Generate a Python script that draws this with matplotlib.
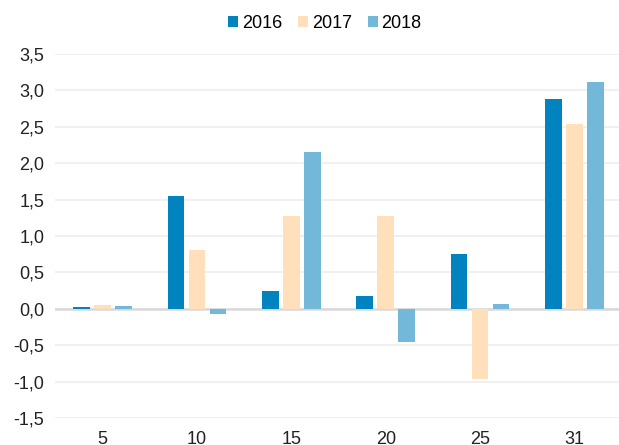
import matplotlib
matplotlib.use("Agg")
import matplotlib.pyplot as plt
import numpy as np
from matplotlib.ticker import FuncFormatter

categories = ["5", "10", "15", "20", "25", "31"]
series_names = ["2016", "2017", "2018"]
v2016 = [0.02, 1.55, 0.24, 0.18, 0.75, 2.88]
v2017 = [0.05, 0.81, 1.28, 1.28, -0.97, 2.54]
v2018 = [0.04, -0.07, 2.16, -0.46, 0.06, 3.11]
colors = ["#0083BE", "#FFE0BA", "#74B8D9"]
yticks = [-1.5, -1.0, -0.5, 0.0, 0.5, 1.0, 1.5, 2.0, 2.5, 3.0, 3.5]

plt.rcParams["font.family"] = ["Liberation Sans", "DejaVu Sans"]
fig = plt.figure(figsize=(6.19, 4.45), dpi=100)
W, H = 619, 445
left_px, right_px, top_px, bot_px = 55.3, 621.7, 54, 418
ax = fig.add_axes([left_px / W, 1 - bot_px / H, (right_px - left_px) / W, (bot_px - top_px) / H])

x = np.arange(len(categories))
width = 0.175
step = 0.222
for i, (vals, name, c) in enumerate(zip([v2016, v2017, v2018], series_names, colors)):
    ax.bar(x + (i - 1) * step, vals, width, color=c, label=name, zorder=3)

ax.set_xlim(-0.5, len(categories) - 0.5)
ax.set_ylim(-1.5, 3.5)
ax.set_yticks(yticks)
ax.yaxis.set_major_formatter(FuncFormatter(lambda v, p: f"{v:.1f}".replace(".", ",")))
ax.set_xticks(x)
ax.set_xticklabels(categories)
ax.grid(axis="y", color="#ededed", linewidth=1.2, zorder=0)
ax.axhline(0, color="#d9d9d9", linewidth=1.8, zorder=2)
for s in ax.spines.values():
    s.set_visible(False)
ax.tick_params(axis="both", length=0, labelsize=13, colors="#222222")
ax.tick_params(axis="y", pad=8)
ax.tick_params(axis="x", pad=9)

leg = fig.legend(loc="center", bbox_to_anchor=(325 / W, 1 - 23.5 / H), ncol=3, frameon=False,
                 fontsize=13, handlelength=0.55, handleheight=0.55, handletextpad=0.2,
                 columnspacing=0.9)
fig.savefig("out.png", dpi=100)
